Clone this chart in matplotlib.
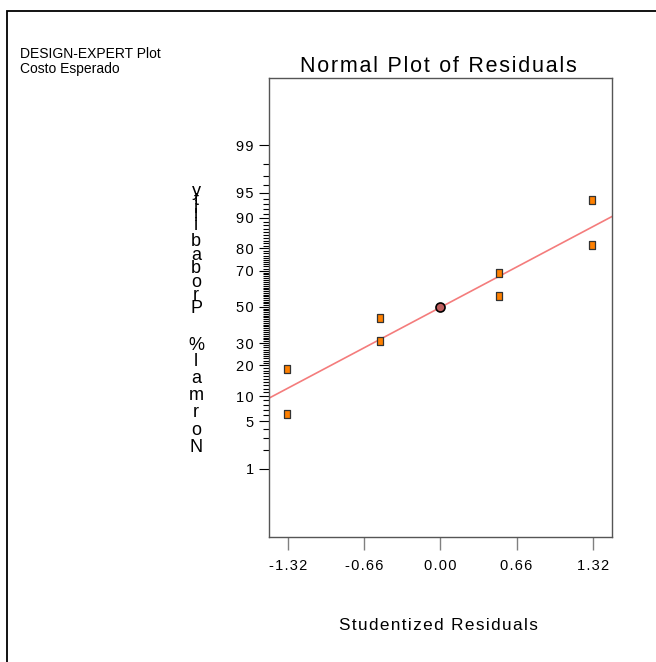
import numpy as np
import matplotlib
matplotlib.use("Agg")
import matplotlib.pyplot as plt
from matplotlib.patches import Rectangle
from matplotlib import font_manager as fm
from statistics import NormalDist

plt.rcParams['font.family'] = ['Liberation Sans', 'DejaVu Sans']

# residuals (x) and normal probability (%)
resid = [-1.328, -1.328, -0.52, -0.52, 0.509, 0.509, 1.317, 1.317]
prob = [6.25, 18.75, 31.25, 43.75, 56.25, 68.75, 81.25, 93.75]
center_x = [0.0]
center_p = [50.0]
line_x = [-1.49, 1.49]
line_p = [9.4, 90.4]

xticks = [-1.32, -0.66, 0.0, 0.66, 1.32]
yticks = [1, 5, 10, 20, 30, 50, 70, 80, 90, 95, 99]
yminor = [2, 3, 4, 6, 7, 8, 9] + list(range(11, 90)) + [91, 92, 93, 94, 96, 97, 98]

nd = NormalDist()
def fwd(p):
    p = np.clip(np.asarray(p, float), 1e-6, 100 - 1e-6)
    return np.vectorize(nd.inv_cdf, otypes=[float])(p / 100.0)
def inv(z):
    return np.vectorize(nd.cdf, otypes=[float])(np.asarray(z, float)) * 100.0

def track(s):
    return '\u200a'.join(s)

# narrow font for title / x label if there is one
names = {f.name for f in fm.fontManager.ttflist}
if 'Liberation Sans Narrow' in names:
    narrow = ['Liberation Sans Narrow', 'DejaVu Sans']
    title_fs, xlab_fs = 18.5, 15
else:
    narrow = ['Liberation Sans', 'DejaVu Sans']
    title_fs, xlab_fs = 15.5, 12.3

W, H = 656, 662
fig = plt.figure(figsize=(W / 100, H / 100), dpi=100)
ax = fig.add_axes([269 / W, 1 - 537 / H, (612 - 269) / W, (537 - 78) / H])
ax.set_yscale('function', functions=(fwd, inv))

ax.plot(line_x, line_p, color='#f47c7c', lw=1.2, zorder=2)
ax.plot(resid, prob, ls='none', marker=[(-0.33, -0.5), (0.33, -0.5), (0.33, 0.5), (-0.33, 0.5), (-0.33, -0.5)],
        ms=6, mfc='#ff8000', mec='#333333', mew=0.9, zorder=3)
ax.plot(center_x, center_p, ls='none', marker='o', ms=6.5, mfc='#bf5e5e', mec='black', mew=1.2, zorder=4)

ax.set_xlim(-1.485, 1.487)
ax.set_ylim(inv(-3.31), inv(3.295))

ax.set_yticks(yticks)
ax.set_yticklabels([track(str(t)) for t in yticks], fontsize=10.5)
ax.set_yticks(yminor, minor=True)
ax.set_xticks(xticks)
ax.set_xticklabels([track('%.2f' % t) for t in xticks], fontsize=10.5)

ax.tick_params(axis='y', which='major', length=7, width=0.8, color='black', pad=4)
ax.tick_params(axis='y', which='minor', length=4, width=0.8, color='black')
ax.tick_params(axis='x', which='major', length=9.5, width=1.0, color='#808080', pad=6)
ax.tick_params(axis='x', which='minor', length=0)
for s in ax.spines.values():
    s.set_color('#555555')
    s.set_linewidth(1.0)

# title and labels
fig.text(438 / W, 1 - 72 / H, track('Normal Plot of Residuals'), ha='center', va='baseline',
         fontsize=title_fs, family=narrow)
fig.text(438 / W, 1 - 630 / H, track('Studentized Residuals'), ha='center', va='baseline',
         fontsize=xlab_fs, family=narrow)
fig.text(20 / W, 1 - 58 / H, 'DESIGN-EXPERT Plot', ha='left', va='baseline', fontsize=10)
fig.text(20 / W, 1 - 73 / H, 'Costo Esperado', ha='left', va='baseline', fontsize=10)

# y label: upright letters stacked bottom to top, in a few column groups
# (group text, bottom of group in px, line spacing)
ygroups = [('y\nt\ni\nl\ni', 233.5, 0.33),
           ('b\na\nb\no\nr\nP', 317.3, 0.723),
           ('%', 353.8, 1.0),
           ('l\na\nm\nr\no\nN', 455.8, 1.015)]
for txt, ybot, ls in ygroups:
    fig.text(196 / W, 1 - ybot / H, txt, ha='center', va='bottom', multialignment='center',
             linespacing=ls, fontsize=13)

# outer frame (only left and top edges are visible)
fig.patches.append(Rectangle((7 / W, -0.1), 1.2, 1.1 - 11 / H, transform=fig.transFigure,
                             fill=False, ec='black', lw=1.3))

fig.savefig('out.png', dpi=100)
